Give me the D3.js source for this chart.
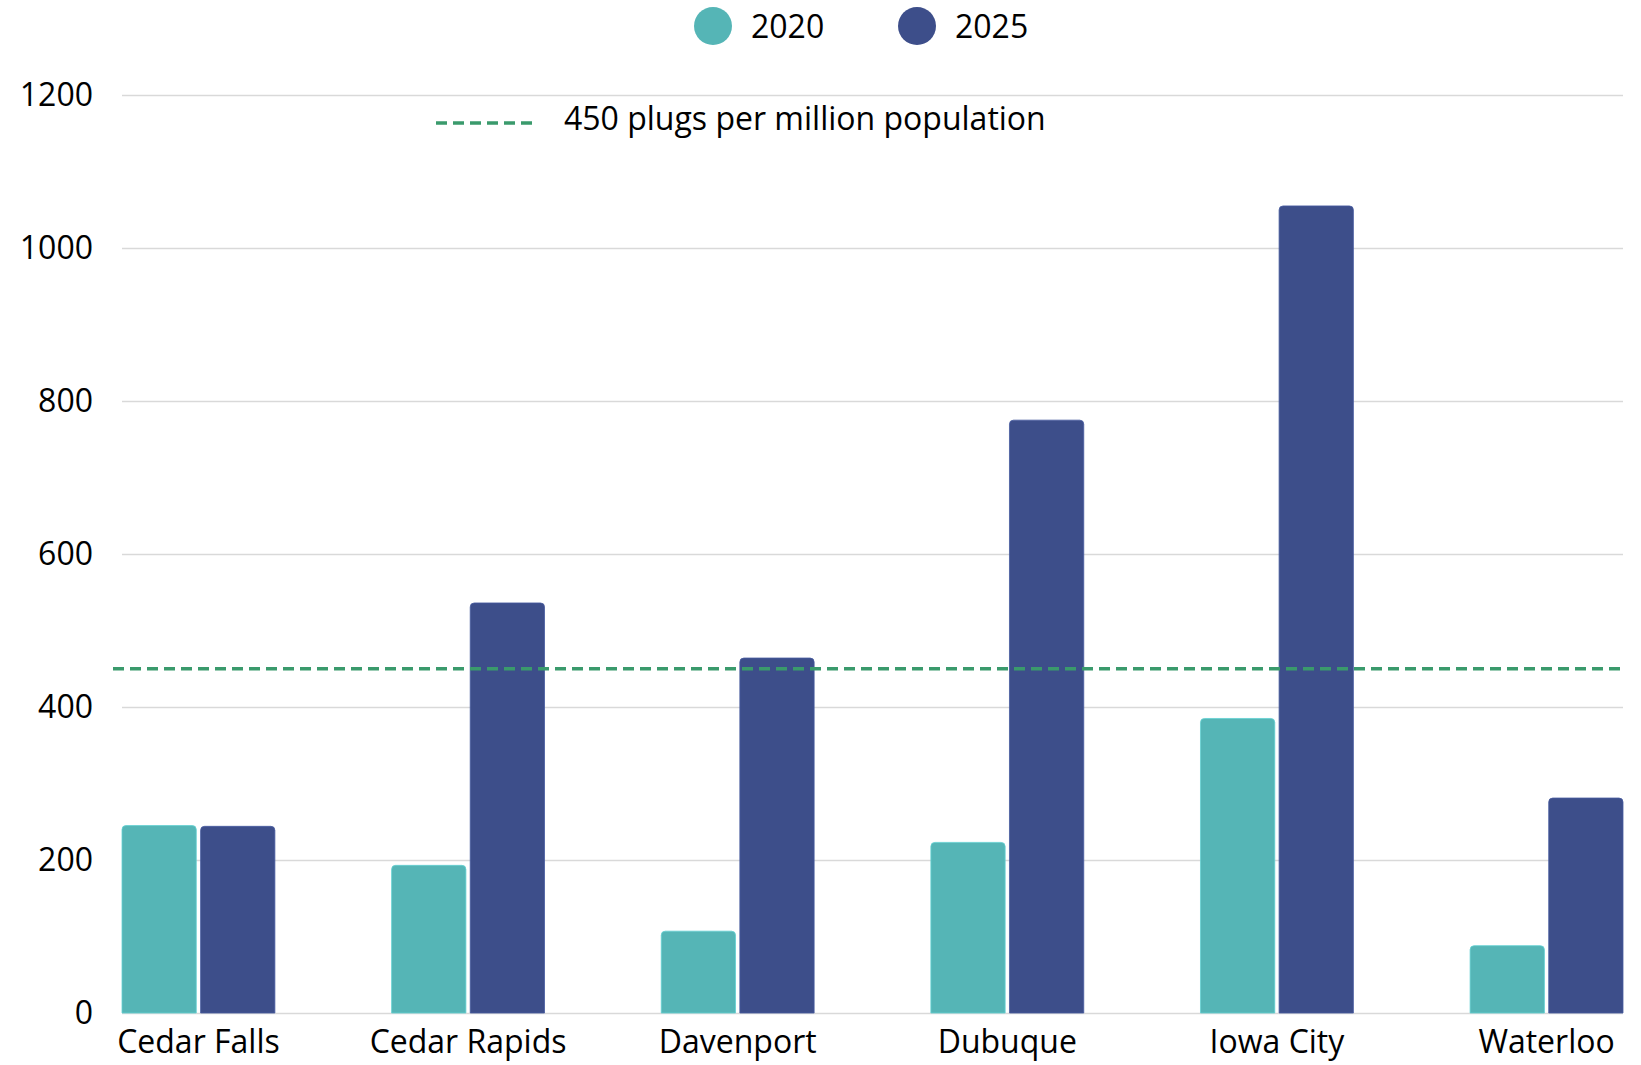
<!DOCTYPE html>
<html>
<head>
<meta charset="utf-8">
<script src="https://cdn.jsdelivr.net/npm/d3@7"></script>
<style>
  body { margin: 0; background: #fff; }
  svg, svg text { font-family: 'Open Sans', sans-serif; }
  .grid line { stroke: #d9d9d9; stroke-width: 1.5; }
  .grid text, .xaxis text { font-size: 32px; fill: #000; }
</style>
</head>
<body>
<svg id="chart" width="1641" height="1065"></svg>
<script>
// plugs per million population, by city
var cities = ['Cedar Falls', 'Cedar Rapids', 'Davenport', 'Dubuque', 'Iowa City', 'Waterloo'];
var years = ['2020', '2025'];
var values2020 = [245, 193, 107, 223, 385, 88];
var values2025 = [244, 536, 464, 775, 1055, 281];
var yTicks = [0, 200, 400, 600, 800, 1000, 1200];
var target = 450;
var targetLabel = '450 plugs per million population';

var colors = { '2020': '#55b5b6', '2025': '#3d4e8a' };

var svg = d3.select('svg#chart');

var margin = { left: 122, right: 18, top: 95, bottom: 52 };
var W = +svg.attr('width'), H = +svg.attr('height');

var x0 = d3.scaleBand()
    .domain(cities)
    .range([margin.left, W - margin.right])
    .paddingInner(0.433)
    .paddingOuter(0);

var x1 = d3.scaleBand()
    .domain(years)
    .range([0, x0.bandwidth()])
    .paddingInner(0.055);

var y = d3.scaleLinear()
    .domain([0, 1200])
    .range([H - margin.bottom, margin.top]);

// gridlines + y labels
var grid = svg.append('g')
    .attr('class', 'grid')
    .attr('transform', 'translate(' + margin.left + ',0)')
    .call(d3.axisLeft(y).tickValues(yTicks).tickFormat(d3.format('d'))
        .tickSize(-(W - margin.left - margin.right)).tickPadding(29));
grid.attr('font-family', null).attr('font-size', null);
grid.select('.domain').remove();

var rows = cities.map(function (c, i) {
    return { city: c, vals: [{ year: '2020', v: values2020[i] }, { year: '2025', v: values2025[i] }] };
});

function topRounded(xp, yp, w, h, r) {
    r = Math.min(r, h);
    return 'M' + xp + ',' + (yp + h) +
        'V' + (yp + r) +
        'Q' + xp + ',' + yp + ' ' + (xp + r) + ',' + yp +
        'H' + (xp + w - r) +
        'Q' + (xp + w) + ',' + yp + ' ' + (xp + w) + ',' + (yp + r) +
        'V' + (yp + h) + 'Z';
}

var groups = svg.append('g').attr('class', 'bars')
    .selectAll('g')
    .data(rows)
    .join('g')
    .attr('transform', function (d) { return 'translate(' + x0(d.city) + ',0)'; });

groups.selectAll('path')
    .data(function (d) { return d.vals; })
    .join('path')
    .attr('fill', function (d) { return colors[d.year]; })
    .attr('stroke', function (d) { return d3.color(colors[d.year]).brighter(0.4); })
    .attr('stroke-width', 0.8)
    .attr('d', function (d) {
        return topRounded(x1(d.year), y(d.v), x1.bandwidth(), y(0) - y(d.v), 4);
    });

// target line
svg.append('line')
    .attr('x1', margin.left - 9)
    .attr('x2', W - margin.right)
    .attr('y1', y(target))
    .attr('y2', y(target))
    .attr('stroke', '#3a9a6c')
    .attr('stroke-width', 3.5)
    .attr('stroke-dasharray', '11,6');

// x labels
var xaxis = svg.append('g')
    .attr('class', 'xaxis')
    .attr('transform', 'translate(0,' + y(0) + ')')
    .call(d3.axisBottom(x0).tickSize(0).tickPadding(17));
xaxis.attr('font-family', null).attr('font-size', null);
xaxis.select('.domain').remove();

// legend
var legend = svg.append('g').attr('class', 'legend');
var legX = [713, 917];
years.forEach(function (yr, i) {
    legend.append('circle')
        .attr('cx', legX[i])
        .attr('cy', 26)
        .attr('r', 19)
        .attr('fill', colors[yr]);
    legend.append('text')
        .attr('x', legX[i] + 38)
        .attr('y', 38)
        .attr('font-size', 32)
        .attr('fill', '#000')
        .text(yr);
});

legend.append('line')
    .attr('x1', 436).attr('x2', 538)
    .attr('y1', 123).attr('y2', 123)
    .attr('stroke', '#3a9a6c')
    .attr('stroke-width', 3.5)
    .attr('stroke-dasharray', '11,6');
legend.append('text')
    .attr('x', 564)
    .attr('y', 130)
    .attr('font-size', 32)
    .attr('fill', '#000')
    .text(targetLabel);
</script>
</body>
</html>
